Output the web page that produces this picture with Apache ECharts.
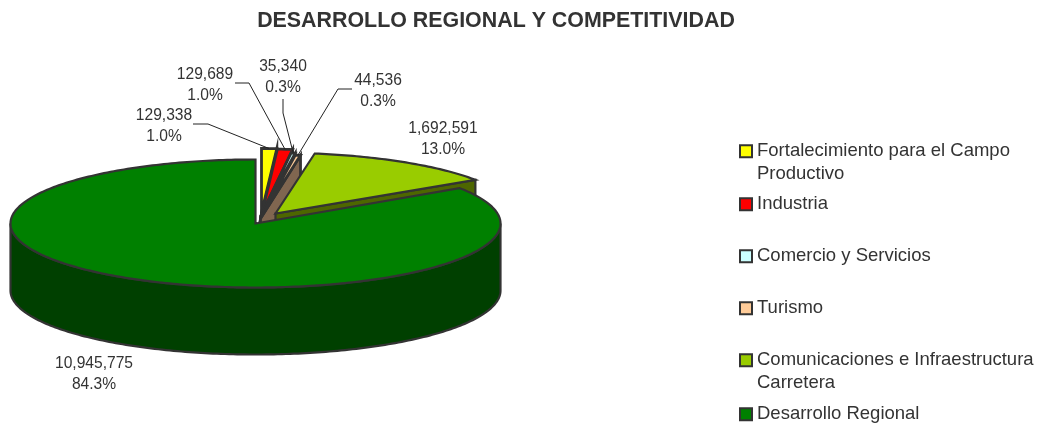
<!DOCTYPE html>
<html><head><meta charset="utf-8">
<style>html,body{margin:0;padding:0;background:#fff}#c{width:1041px;height:423px}</style>
<script src="https://cdn.jsdelivr.net/npm/echarts@6/dist/echarts.min.js"></script>
</head><body><div id="c"></div>
<script>
const categories = ['Fortalecimiento para el Campo\nProductivo','Industria','Comercio y Servicios','Turismo','Comunicaciones e Infraestructura\nCarretera','Desarrollo Regional'];
const values = [129338,129689,35340,44536,1692591,10945775];
const colors = ['#FFFF00','#FF0000','#CCFFFF','#FFCC99','#99CC00','#008000'];
const sideColors = ['#808000','#800000','#668080','#806650','#4D6600','#004000'];

// layout only
const cx=255.5, cy=223.5, rx=245, ry=64, depth=67, edge='#333333', font='"Liberation Sans", Arial, sans-serif';
const explode=[[6,-11,1,1],[6.5,-10.5,1,1],[5,-7,1,1],[5,-5,1,1],[20,-10,.98,.95],[0,0,1,1]];
const strokeWidths=[2.8,2.8,2.8,2.8,2.2,2.2];
const labelPos=[[164,116],[205,75],[283,67],[378,81],[443,129],[94,364]];
const leaderElbows=[[[193,124],[208,124]],[[235,83],[249,83]],[[283,99],[283,113]],[[352,89],[338,89]],null,null];
const legendTops=[117.5,193,245,297,326.5,403];

const total=values.reduce((a,b)=>a+b,0);
const fmt=v=>v.toString().replace(/\B(?=(\d{3})+$)/g,',');
const starts=[];values.reduce((s,v,i)=>{starts[i]=s;return s+v;},0);
const ang=v=>v/total*Math.PI*2;
function pt(a,o,dy){return [cx+o[0]+rx*o[2]*Math.sin(a), cy+o[1]-ry*o[3]*Math.cos(a)+(dy||0)];}
function arc(a0,a1,o,dy){const n=Math.max(2,Math.ceil((a1-a0)*60)),p=[];
  for(let k=0;k<=n;k++)p.push(pt(a0+(a1-a0)*k/n,o,dy));return p;}

function renderSlice(i){return function(params,api){
  const a0=ang(starts[i]), a1=a0+ang(api.value(0)), o=explode[i];
  const apex=[cx+o[0],cy+o[1]], end=pt(a1,o), kids=[];
  const shape=p=>({points:p});
  const st=f=>({fill:f,stroke:edge,lineWidth:strokeWidths[i],lineJoin:'miter'});
  if(a1<Math.PI*1.5){kids.push({type:'polygon',shape:shape([apex,end,[end[0],end[1]+depth],[apex[0],apex[1]+depth]]),style:st(sideColors[i])});}
  const w0=Math.max(a0,Math.PI/2), w1=Math.min(a1,Math.PI*1.5);
  if(w1>w0){kids.push({type:'polygon',shape:shape(arc(w0,w1,o).concat(arc(w0,w1,o,depth).reverse())),style:st(sideColors[i])});}
  kids.push({type:'polygon',shape:shape([apex].concat(arc(a0,a1,o))),style:st(colors[i])});
  if(leaderElbows[i]){const m=(a0+a1)/2;
    kids.push({type:'polyline',shape:{points:leaderElbows[i].concat([pt(m,o)])},style:{fill:null,stroke:'#222',lineWidth:1}});}
  const pct=(api.value(0)/total*100).toFixed(1)+'%';
  kids.push({type:'text',style:{text:fmt(api.value(0))+'\n'+pct,x:labelPos[i][0],y:labelPos[i][1]-10.5,align:'center',verticalAlign:'top',
    font:'15.6px '+font,lineHeight:21,fill:'#333'}});
  return {type:'group',children:kids};
};}

const series=categories.map((name,i)=>({
  type:'custom',name:name,coordinateSystem:'none',silent:true,animation:false,z:2+i,
  itemStyle:{color:colors[i]},data:[[values[i]]],renderItem:renderSlice(i)
}));
const legend=categories.map((name,i)=>({
  data:[name],left:739,top:legendTops[i],orient:'vertical',padding:0,icon:'rect',itemWidth:12,itemHeight:12,selectedMode:false,
  itemStyle:{borderColor:edge,borderWidth:2},
  formatter:n=>n.includes('\n')?'\n'+n:n,
  textStyle:{fontFamily:font,fontSize:18.5,color:'#333',lineHeight:22.5},
}));
const chart=echarts.init(document.getElementById('c'),null,{renderer:'canvas'});
chart.setOption({animation:false,backgroundColor:'#fff',
  title:{text:'DESARROLLO REGIONAL Y COMPETITIVIDAD',left:491,top:6,textAlign:'center',textStyle:{fontFamily:font,fontSize:21.4,fontWeight:'bold',color:'#333'}},
  legend:legend,series:series});
</script></body></html>
